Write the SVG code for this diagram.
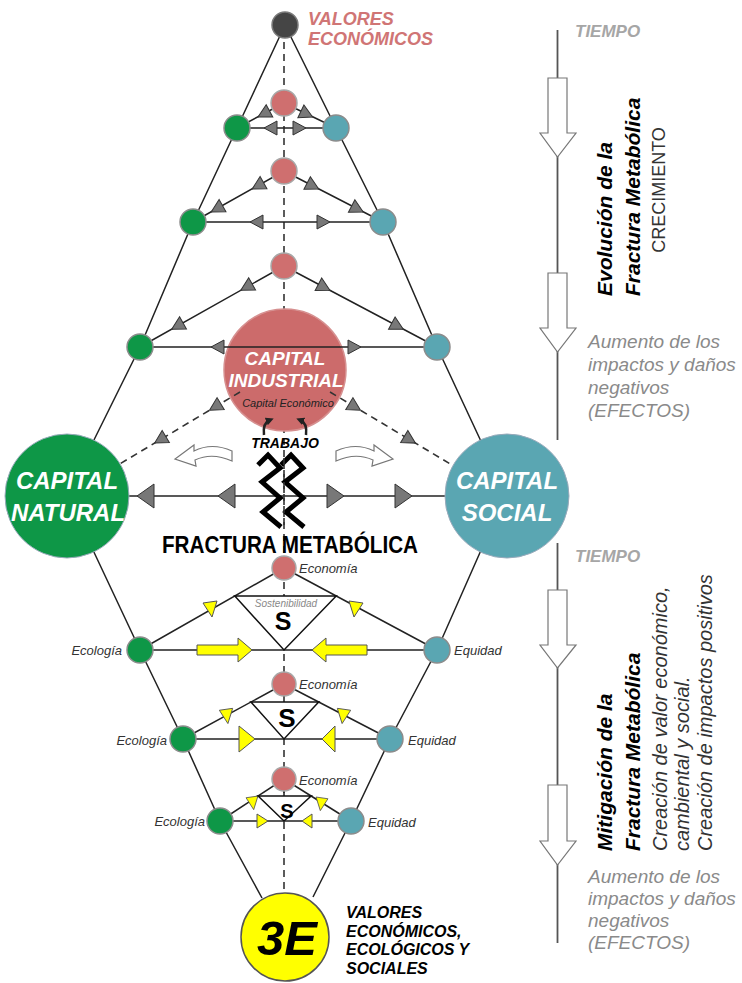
<svg xmlns="http://www.w3.org/2000/svg" width="742" height="983" viewBox="0 0 742 983">
<defs>
<style>
text{font-family:"Liberation Sans",Arial,sans-serif}
.ln{stroke:#222;stroke-width:1.5;fill:none}
.dash{stroke:#333;stroke-width:1.6;stroke-dasharray:7 5;fill:none}
.ga{fill:#787878;stroke:#333;stroke-width:1}
.ya{fill:#ffff00;stroke:#555;stroke-width:1}
.gn{fill:#0e9747;stroke:#8c8c8c;stroke-width:1.5}
.tl{fill:#5aa6b2;stroke:#8c8c8c;stroke-width:1.5}
.pk{fill:#cf6f6f;stroke:#a8a8a8;stroke-width:1.5}
.big{font-weight:bold;font-style:italic;fill:#fff;text-anchor:middle}
.lab{font-style:italic;font-size:13px;fill:#333}
.rb{font-weight:bold;font-style:italic;font-size:21px;fill:#000}
.ri{font-style:italic;font-size:20px;fill:#333}
.gr{font-style:italic;font-size:19px;fill:#8a8a8a}
.ti{font-weight:bold;font-style:italic;font-size:17px;fill:#a6a6a6}
.oa{fill:#fff;stroke:#777;stroke-width:1.2}
.tri{fill:#fff;stroke:#111;stroke-width:1.5}
.bolt{fill:none;stroke:#000;stroke-width:5;stroke-linejoin:miter}
.sb{font-weight:bold;fill:#000;text-anchor:middle}
.bt{font-size:16px;font-weight:bold;font-style:italic;fill:#000}
</style>
<polygon id="gA" points="0,0 -13,-7 -13,7"/>
<polygon id="gB" points="0,0 -17,-12 -17,12"/>
<polygon id="yv" points="-7,-5 7,-7 2,9"/>
<marker id="mk" viewBox="0 0 10 10" refX="5" refY="5" markerWidth="3.2" markerHeight="3.2" orient="auto"><path d="M0,0 L10,5 L0,10 z" fill="#222"/></marker>
</defs>
<rect width="742" height="983" fill="#fff"/>

<g id="axis-dashed">
<line class="dash" x1="284" y1="30" x2="284" y2="900"/>
</g>

<g id="capital-industrial">
<circle cx="285" cy="370" r="61" fill="#cc6b6b" stroke="#d69090" stroke-width="1.5"/>
<text class="big" x="285" y="365" font-size="19">CAPITAL</text>
<text class="big" x="286" y="387" font-size="19">INDUSTRIAL</text>
<text x="288" y="407" font-size="11" font-style="italic" fill="#222" text-anchor="middle">Capital Económico</text>
</g>

<g id="connectors">
<polyline class="ln" points="285,25 237,128 193,222 140,347 88,452"/>
<polyline class="ln" points="285,25 336,128 383,222 437,347 486,452"/>
<polyline class="ln" points="92,548 140,650 183,739 220,821 262,898"/>
<polyline class="ln" points="482,548 437,650 390,739 351,821 313,897"/>
<path class="ln" d="M284,103 L237,128 M284,103 L336,128 M237,128 L336,128"/>
<path class="ln" d="M284,171 L193,222 M284,171 L383,222 M193,222 L383,222"/>
<path class="ln" d="M284,266 L140,347 M284,266 L437,347 M140,347 L437,347"/>
<line class="ln" x1="67" y1="496" x2="507" y2="496"/>
<path class="dash" d="M240,392 L118,465 M330,392 L452,465" stroke-dasharray="6 5"/>
<use href="#gA" class="ga" transform="translate(258,117) rotate(152)"/>
<use href="#gA" class="ga" transform="translate(312.6,117) rotate(25.7)"/>
<use href="#gA" class="ga" transform="translate(264,128) rotate(180)"/>
<use href="#gA" class="ga" transform="translate(306,128)"/>
<use href="#gA" class="ga" transform="translate(252.2,189) rotate(150.7)"/>
<use href="#gA" class="ga" transform="translate(211.2,212) rotate(150.7)"/>
<use href="#gA" class="ga" transform="translate(318.7,189) rotate(27.3)"/>
<use href="#gA" class="ga" transform="translate(363.2,212) rotate(27.3)"/>
<use href="#gA" class="ga" transform="translate(250,222) rotate(180)"/>
<use href="#gA" class="ga" transform="translate(330,222)"/>
<use href="#gA" class="ga" transform="translate(240.8,290.3) rotate(150.6)"/>
<use href="#gA" class="ga" transform="translate(171.7,329.2) rotate(150.6)"/>
<use href="#gA" class="ga" transform="translate(329.9,290.3) rotate(27.9)"/>
<use href="#gA" class="ga" transform="translate(403.3,329.2) rotate(27.9)"/>
<use href="#gA" class="ga" transform="translate(211,347) rotate(180)"/>
<use href="#gA" class="ga" transform="translate(361,347)"/>
<use href="#gA" class="ga" transform="translate(209.5,410.3) rotate(149.1)"/>
<use href="#gA" class="ga" transform="translate(154.6,443.1) rotate(149.1)"/>
<use href="#gA" class="ga" transform="translate(360.5,410.3) rotate(30.9)"/>
<use href="#gA" class="ga" transform="translate(415.4,443.1) rotate(30.9)"/>
<use href="#gB" class="ga" transform="translate(137,496) rotate(180)"/>
<use href="#gB" class="ga" transform="translate(218,496) rotate(180)"/>
<use href="#gB" class="ga" transform="translate(344,496)"/>
<use href="#gB" class="ga" transform="translate(412,496)"/>
<path class="oa" d="M232,451 Q212,442 194,451 L194,445 L175,459 L196,466 L195,460 Q212,452 232,461 Z"/>
<path class="oa" transform="matrix(-1,0,0,1,568,0)" d="M232,451 Q212,442 194,451 L194,445 L175,459 L196,466 L195,460 Q212,452 232,461 Z"/>
<path d="M264,435 C263,427 265,422 270,420" fill="none" stroke="#222" stroke-width="2.5" marker-end="url(#mk)"/>
<path d="M306,435 C307,427 305,422 300,420" fill="none" stroke="#222" stroke-width="2.5" marker-end="url(#mk)"/>
<path class="ln" d="M284,568 L140,650 M284,568 L437,650 M140,650 L437,650"/>
<path class="ln" d="M284,684 L183,739 M284,684 L390,739 M183,739 L390,739 M284,695 L284,702"/>
<path class="ln" d="M284,779 L220,821 M284,779 L351,821 M220,821 L351,821 M284,790 L284,796"/>
<use href="#yv" class="ya" transform="translate(210,608)"/>
<use href="#yv" class="ya" transform="translate(356,608) scale(-1,1)"/>
<use href="#yv" class="ya" transform="translate(226,715) scale(0.95)"/>
<use href="#yv" class="ya" transform="translate(344,715) scale(-0.95,0.95)"/>
<use href="#yv" class="ya" transform="translate(252,802) scale(0.85)"/>
<use href="#yv" class="ya" transform="translate(322,803) scale(-0.85,0.85)"/>
<polygon class="ya" points="197,645 238,645 238,638 252,650 238,662 238,655 197,655"/>
<polygon class="ya" points="367,645 326,645 326,638 312,650 326,662 326,655 367,655"/>
<polygon class="ya" points="239,726 255,739 239,752"/>
<polygon class="ya" points="335,726 322,739 335,752"/>
<polygon class="ya" points="257,814 268,821 257,828"/>
<polygon class="ya" points="312,814 302,821 312,828"/>
</g>

<g id="valores-economicos">
<circle cx="285" cy="25" r="13" fill="#454545" stroke="#7a7a7a" stroke-width="1.5"/>
<text x="308" y="25" font-size="18" font-weight="bold" font-style="italic" fill="#d07575">VALORES</text>
<text x="308" y="45" font-size="18" font-weight="bold" font-style="italic" fill="#d07575">ECONÓMICOS</text>
</g>

<g id="row1">
<circle class="pk" cx="284" cy="103" r="13"/>
<circle class="gn" cx="237" cy="128" r="13"/>
<circle class="tl" cx="336" cy="128" r="13"/>
</g>
<g id="row2">
<circle class="pk" cx="284" cy="171" r="13"/>
<circle class="gn" cx="193" cy="222" r="13"/>
<circle class="tl" cx="383" cy="222" r="13"/>
</g>
<g id="row3">
<circle class="pk" cx="284" cy="266" r="13"/>
<circle class="gn" cx="140" cy="347" r="13"/>
<circle class="tl" cx="437" cy="347" r="13"/>
</g>

<g id="capital-natural">
<circle cx="67" cy="496" r="62" fill="#0e9747" stroke="#9ab" stroke-width="1"/>
<text class="big" x="67" y="489" font-size="24">CAPITAL</text>
<text class="big" x="68" y="521" font-size="24">NATURAL</text>
</g>
<g id="capital-social">
<circle cx="507" cy="496" r="62" fill="#5aa6b2" stroke="#9ab" stroke-width="1"/>
<text class="big" x="507" y="489" font-size="24">CAPITAL</text>
<text class="big" x="507" y="521" font-size="24">SOCIAL</text>
</g>

<g id="fractura">
<polyline class="bolt" points="258,465 268,455 280,468 262,482 280,498 263,512 281,527"/>
<polyline class="bolt" points="281,465 291,455 303,468 285,482 303,498 286,512 304,527"/>
<line class="dash" x1="284" y1="458" x2="284" y2="530"/>
<text x="285" y="448" font-size="14" font-weight="bold" font-style="italic" text-anchor="middle">TRABAJO</text>
<text x="162" y="553" font-size="24" font-weight="bold" textLength="256" lengthAdjust="spacingAndGlyphs">FRACTURA METABÓLICA</text>
</g>

<g id="sostenibilidad-1">
<polygon class="tri" points="234.8,596 336.2,596 284,650"/>
<text x="286" y="607" font-size="10" font-style="italic" fill="#888" text-anchor="middle">Sostenibilidad</text>
<text class="sb" x="283" y="630" font-size="25">S</text>
<circle class="pk" cx="284" cy="568" r="12"/>
<circle class="gn" cx="140" cy="650" r="13"/>
<circle class="tl" cx="437" cy="650" r="13"/>
<text class="lab" x="299" y="573">Economía</text>
<text class="lab" x="122" y="655" text-anchor="end">Ecología</text>
<text class="lab" x="454" y="655">Equidad</text>
</g>
<g id="sostenibilidad-2">
<polygon class="tri" points="250.9,702 318.7,702 284,739"/>
<text class="sb" x="287" y="727" font-size="26">S</text>
<circle class="pk" cx="284" cy="684" r="12"/>
<circle class="gn" cx="183" cy="739" r="13"/>
<circle class="tl" cx="390" cy="739" r="13"/>
<text class="lab" x="299" y="689">Economía</text>
<text class="lab" x="167" y="745" text-anchor="end">Ecología</text>
<text class="lab" x="408" y="745">Equidad</text>
</g>
<g id="sostenibilidad-3">
<polygon class="tri" points="258.1,796 311.1,796 284,821"/>
<text class="sb" x="287" y="818" font-size="20">S</text>
<circle class="pk" cx="284" cy="779" r="12"/>
<circle class="gn" cx="220" cy="821" r="13"/>
<circle class="tl" cx="351" cy="821" r="13"/>
<text class="lab" x="299" y="785">Economía</text>
<text class="lab" x="205" y="826" text-anchor="end">Ecología</text>
<text class="lab" x="368" y="827">Equidad</text>
</g>

<g id="tres-e">
<circle cx="285" cy="937" r="44" fill="#ffff00" stroke="#555" stroke-width="1.5"/>
<text x="287" y="955" font-size="49" font-weight="bold" font-style="italic" text-anchor="middle">3E</text>
<text class="bt" x="346" y="918">VALORES</text>
<text class="bt" x="346" y="936.5">ECONÓMICOS,</text>
<text class="bt" x="346" y="955">ECOLÓGICOS Y</text>
<text class="bt" x="346" y="973.5">SOCIALES</text>
</g>

<g id="timeline-evolucion">
<line x1="557.5" y1="30" x2="557.5" y2="440" stroke="#555" stroke-width="1.8"/>
<polygon class="oa" points="548,78 567,78 567,133 576,133 557.5,157 540,133 548,133"/>
<polygon class="oa" points="548,273 567,273 567,328 576,328 557.5,352 540,328 548,328"/>
<text class="ti" x="575" y="37">TIEMPO</text>
<text class="rb" transform="translate(612,296) rotate(-90)">Evolución de la</text>
<text class="rb" transform="translate(640,296) rotate(-90)">Fractura Metabólica</text>
<text transform="translate(665,190) rotate(-90)" font-size="18" fill="#333" text-anchor="middle">CRECIMIENTO</text>
<text class="gr" x="588" y="348">Aumento de los</text>
<text class="gr" x="588" y="371">impactos y daños</text>
<text class="gr" x="588" y="394">negativos</text>
<text class="gr" x="588" y="417">(EFECTOS)</text>
</g>

<g id="timeline-mitigacion">
<line x1="557.5" y1="543" x2="557.5" y2="943" stroke="#555" stroke-width="1.8"/>
<polygon class="oa" points="548,590 567,590 567,645 576,645 557.5,668 540,645 548,645"/>
<polygon class="oa" points="548,785 567,785 567,841 576,841 557.5,865 540,841 548,841"/>
<text class="ti" x="575" y="562">TIEMPO</text>
<text class="rb" transform="translate(612,851) rotate(-90)">Mitigación de la</text>
<text class="rb" transform="translate(640,851) rotate(-90)">Fractura Metabólica</text>
<text class="ri" transform="translate(667,851) rotate(-90)">Creación de valor económico,</text>
<text class="ri" transform="translate(689,851) rotate(-90)">cambiental y social.</text>
<text class="ri" transform="translate(712,851) rotate(-90)">Creación de impactos positivos</text>
<text class="gr" x="588" y="883">Aumento de los</text>
<text class="gr" x="588" y="905">impactos y daños</text>
<text class="gr" x="588" y="927">negativos</text>
<text class="gr" x="588" y="949">(EFECTOS)</text>
</g>
</svg>
